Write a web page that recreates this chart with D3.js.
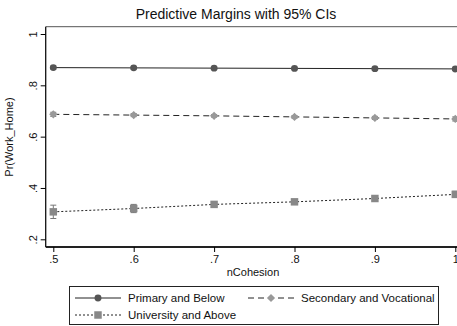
<!DOCTYPE html>
<html>
<head>
<meta charset="utf-8">
<script src="https://cdn.jsdelivr.net/npm/d3@7"></script>
<style>
  body { margin: 0; background: #fff; }
  text { font-family: "Liberation Sans", Arial, sans-serif; fill: #111; }
</style>
</head>
<body>
<svg id="chart" width="457" height="326"></svg>
<script>
const xValues = [0.5, 0.6, 0.7, 0.8, 0.9, 1];
const primary = [0.869, 0.868, 0.867, 0.866, 0.865, 0.864];
const primaryCI = [0.006, 0.005, 0.004, 0.004, 0.005, 0.006];
const secondary = [0.687, 0.684, 0.681, 0.677, 0.673, 0.669];
const secondaryCI = [0.008, 0.006, 0.005, 0.005, 0.006, 0.008];
const university = [0.307, 0.320, 0.336, 0.346, 0.359, 0.375];
const universityCI = [0.026, 0.016, 0.008, 0.007, 0.009, 0.012];
const xTicks = [0.5, 0.6, 0.7, 0.8, 0.9, 1];
const yTicks = [0.2, 0.4, 0.6, 0.8, 1];
const seriesNames = ['Primary and Below', 'Secondary and Vocational', 'University and Above'];

const svg = d3.select('#chart');
const x = d3.scaleLinear().domain([0.5, 1]).range([53.3, 455.3]);
const y = d3.scaleLinear().domain([0.2, 1]).range([239.3, 34]);
const fmt = d => d === 1 ? '1' : d3.format('.1f')(d).replace(/^0/, '');

const plotLeft = 45.7, plotTop = 26.7, plotBottom = 247;

// title
svg.append('text').attr('x', 236).attr('y', 19).attr('text-anchor', 'middle')
  .style('font-size', '14px').text('Predictive Margins with 95% CIs');

// plot region outline (top)
svg.append('line').attr('x1', plotLeft).attr('x2', 457).attr('y1', plotTop).attr('y2', plotTop)
  .attr('stroke', '#555').attr('stroke-width', 1);

// axes
const yAxis = svg.append('g').attr('transform', `translate(${plotLeft},0)`)
  .call(d3.axisLeft(y).tickValues(yTicks).tickFormat(fmt).tickSize(5).tickPadding(6));
yAxis.select('.domain').attr('d', `M0,${plotTop}V${plotBottom}`).attr('stroke', '#111').attr('stroke-width', 1.3);
yAxis.selectAll('.tick text')
  .style('font-size', '11px')
  .attr('transform', 'rotate(-90)')
  .attr('x', 0).attr('y', -9).attr('dy', 0)
  .attr('text-anchor', 'middle');

const xAxis = svg.append('g').attr('transform', `translate(0,${plotBottom})`)
  .call(d3.axisBottom(x).tickValues(xTicks).tickFormat(fmt).tickSize(5).tickPadding(3));
xAxis.select('.domain').attr('d', `M${plotLeft},0H457`).attr('stroke', '#222').attr('stroke-width', 2);
xAxis.selectAll('.tick text').style('font-size', '11px');

svg.append('text').attr('x', 253).attr('y', 276).attr('text-anchor', 'middle')
  .style('font-size', '11px').text('nCohesion');
svg.append('text').attr('transform', `translate(13,137) rotate(-90)`).attr('text-anchor', 'middle')
  .style('font-size', '11px').text('Pr(Work_Home)');

const series = [
  { vals: primary, ci: primaryCI, dash: null, shape: d3.symbolCircle, size: 38, rot: 0, fill: '#555' },
  { vals: secondary, ci: secondaryCI, dash: '6,4', shape: d3.symbolSquare, size: 34, rot: 45, fill: '#999' },
  { vals: university, ci: universityCI, dash: '2,2', shape: d3.symbolSquare, size: 56, rot: 0, fill: '#888' }
];

const line = d3.line().x(d => x(d[0])).y(d => y(d[1]));

series.forEach(s => {
  const pts = xValues.map((v, i) => [v, s.vals[i], s.ci[i]]);
  const g = svg.append('g');
  // CI bars
  pts.forEach(p => {
    const cx = x(p[0]);
    g.append('line').attr('x1', cx).attr('x2', cx).attr('y1', y(p[1] - p[2])).attr('y2', y(p[1] + p[2]))
      .attr('stroke', '#777').attr('stroke-width', 1);
    [p[1] - p[2], p[1] + p[2]].forEach(e => {
      g.append('line').attr('x1', cx - 3).attr('x2', cx + 3).attr('y1', y(e)).attr('y2', y(e))
        .attr('stroke', '#777').attr('stroke-width', 1);
    });
  });
  g.append('path').datum(pts).attr('d', line).attr('fill', 'none')
    .attr('stroke', '#222').attr('stroke-width', 1)
    .attr('stroke-dasharray', s.dash);
  g.selectAll('path.m').data(pts).join('path').attr('class', 'm')
    .attr('transform', d => `translate(${x(d[0])},${y(d[1])}) rotate(${s.rot})`)
    .attr('d', d3.symbol().type(s.shape).size(s.size))
    .attr('fill', s.fill);
});

// legend
const lg = svg.append('g');
lg.append('rect').attr('x', 69.5).attr('y', 286.5).attr('width', 369).attr('height', 38)
  .attr('fill', '#fff').attr('stroke', '#222').attr('stroke-width', 1);
const legendPos = [[75, 298], [248, 298], [75, 315]];
series.forEach((s, i) => {
  const [lx, ly] = legendPos[i];
  lg.append('line').attr('x1', lx).attr('x2', lx + 46).attr('y1', ly).attr('y2', ly)
    .attr('stroke', '#222').attr('stroke-width', 1).attr('stroke-dasharray', s.dash);
  lg.append('path').attr('transform', `translate(${lx + 23},${ly}) rotate(${s.rot})`)
    .attr('d', d3.symbol().type(s.shape).size(s.size)).attr('fill', s.fill);
  lg.append('text').attr('x', lx + 53).attr('y', ly + 4).style('font-size', '11.5px').text(seriesNames[i]);
});
</script>
</body>
</html>
